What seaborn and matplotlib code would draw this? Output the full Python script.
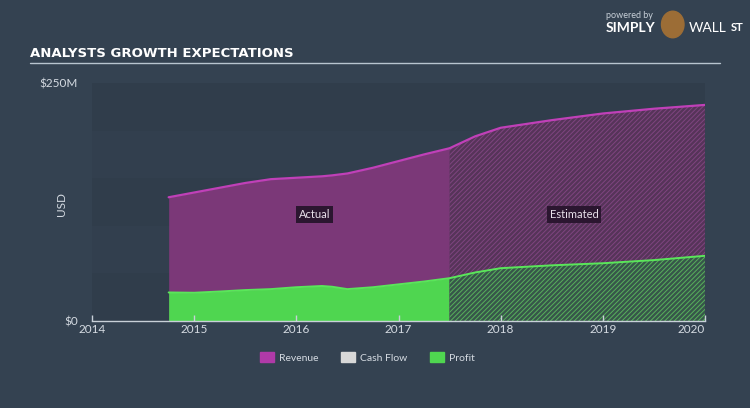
import matplotlib
matplotlib.use("Agg")
import matplotlib.pyplot as plt
from matplotlib.patches import Patch, Ellipse
import seaborn as sns
import pandas as pd

# data (USD millions, decimal years)
actual_years = [2014.75, 2015.0, 2015.25, 2015.5, 2015.75, 2016.0, 2016.25, 2016.35,
                2016.5, 2016.75, 2017.0, 2017.25, 2017.5]
actual_revenue = [130, 135, 140, 145, 149, 150.5, 152, 153, 155, 161, 168, 175, 181.5]
actual_profit = [30, 29.7, 31, 32.5, 33.5, 35.5, 36.8, 36, 33.5, 35.5, 38.5, 41.5, 45]

est_years = [2017.5, 2017.75, 2018.0, 2018.5, 2019.0, 2019.5, 2020.0]
est_revenue = [181.5, 194, 203, 211, 218, 223, 227]
est_profit = [45, 51, 55.5, 58.5, 60.7, 64, 68.5]

year_ticks = [2014, 2015, 2016, 2017, 2018, 2019, 2020]

BG = "#344251"
AX_BG = "#303d4b"
TXT = "#d5dbe2"

sns.set_theme(style="dark")
plt.rcParams["font.family"] = ["Lato", "DejaVu Sans"]
plt.rcParams["hatch.linewidth"] = 0.7

df = pd.DataFrame({
    "year": actual_years + est_years,
    "revenue": actual_revenue + est_revenue,
    "profit": actual_profit + est_profit,
})

fig = plt.figure(figsize=(7.5, 4.08), dpi=100, facecolor=BG)
ax = fig.add_axes([0.1227, 0.2132, 0.8173, 0.5833], facecolor=AX_BG)
ax.set_axisbelow(False)

# actual areas
ax.fill_between(actual_years, 0, actual_revenue, color="#7b3878", lw=0)
ax.fill_between(actual_years, 0, actual_profit, color="#4fd650", lw=0)
# estimated areas (hatched)
ax.fill_between(est_years, 0, est_revenue, facecolor="#563459", edgecolor="#7f4580",
                hatch="///////", lw=0)
ax.fill_between(est_years, 0, est_profit, facecolor="#37564a", edgecolor="#58b05c",
                hatch="///////", lw=0)

sns.lineplot(data=df, x="year", y="revenue", ax=ax, color="#c040b8", lw=1.6)
sns.lineplot(data=df, x="year", y="profit", ax=ax, color="#5ae65a", lw=1.4)

# faint horizontal bands
for i, lo in enumerate(range(0, 250, 50)):
    if i % 2 == 1:
        ax.axhspan(lo, lo + 50, color="#323f4e", zorder=0, lw=0)

ax.set_xlim(2014, 2020.0)
ax.set_ylim(0, 250)
ax.set_xticks(year_ticks)
ax.set_xticklabels([str(y) for y in year_ticks], color=TXT, fontsize=8.5)
labs = ax.get_xticklabels()
labs[-1].set_horizontalalignment("right")
ax.set_yticks([0, 250])
ax.set_yticklabels(["$0", "$250M"], color=TXT, fontsize=8.5)
ax.set_xlabel("")
ax.set_ylabel("USD", color=TXT, fontsize=8.5)
ax.yaxis.set_label_coords(-0.041, 0.49)
ax.tick_params(axis="x", bottom=True, direction="in", length=4, width=1,
               color="#c8d0d8", pad=2)
ax.tick_params(axis="y", length=0, pad=10)
ax.grid(False)
for s in ["top", "right", "left"]:
    ax.spines[s].set_visible(False)
ax.spines["bottom"].set_color("#c8d0d8")
ax.spines["bottom"].set_linewidth(1)

box = dict(boxstyle="square,pad=0.25", fc="#2b1630", ec="none")
ax.text(2016.18, 112, "Actual", color="#e8e0ea", fontsize=8, ha="center", va="center", bbox=box)
ax.text(2018.72, 112, "Estimated", color="#e8e0ea", fontsize=8, ha="center", va="center", bbox=box)

# title and rule
fig.text(0.04, 0.868, "ANALYSTS GROWTH EXPECTATIONS", color="white", fontsize=9.5,
         fontweight="bold", family=["DejaVu Sans"], va="center")
fig.add_artist(plt.Line2D([0.04, 0.96], [0.845, 0.845], color="#b8c4cf", lw=1))

# logo text
fig.text(0.808, 0.962, "powered by", color="#c8d0d8", fontsize=6.5, va="center")
fig.text(0.808, 0.932, "SIMPLY", color="white", fontsize=10, fontweight="bold", va="center")
fig.add_artist(Ellipse((0.897, 0.94), 0.03, 0.065, color="#9c6d36", transform=fig.transFigure))
fig.text(0.918, 0.932, "WALL", color="white", fontsize=10, va="center")
fig.text(0.975, 0.932, "ST", color="white", fontsize=8, fontweight="bold", va="center")

handles = [Patch(color="#b03aa8", label="Revenue"),
           Patch(color="#d8d8d8", label="Cash Flow"),
           Patch(color="#4fd650", label="Profit")]
leg = fig.legend(handles=handles, loc="center", bbox_to_anchor=(0.49, 0.124), ncol=3,
                 frameon=False, fontsize=7.5, handlelength=1.3, handleheight=1.0,
                 columnspacing=2.2, handletextpad=0.5)
for t in leg.get_texts():
    t.set_color(TXT)

fig.savefig("out.png", dpi=100, facecolor=BG)
